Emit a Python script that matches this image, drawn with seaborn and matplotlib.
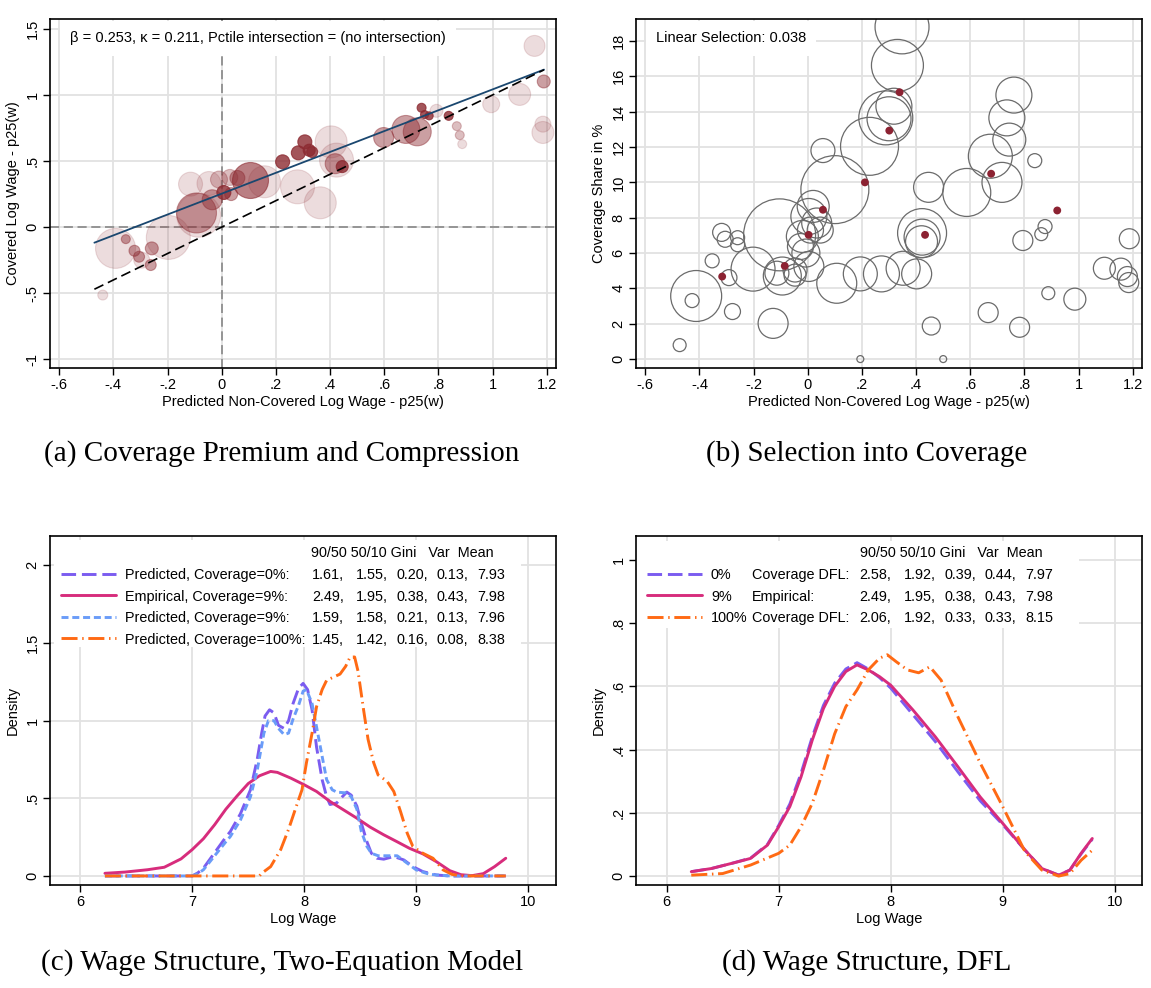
import numpy as np
import pandas as pd
import matplotlib
matplotlib.use("Agg")
import matplotlib.pyplot as plt
import seaborn as sns
from matplotlib.lines import Line2D
from matplotlib.patches import Rectangle

sns.set_theme(style="white")
plt.rcParams.update({
    'font.family': ['Liberation Sans', 'DejaVu Sans'],
    'font.size': 10,
    'axes.edgecolor': 'black',
    'axes.linewidth': 1.2,
    'axes.labelcolor': 'black',
    'text.color': 'black',
    'xtick.color': 'black',
    'ytick.color': 'black',
    'xtick.bottom': True,
    'ytick.left': True,
    'xtick.labelsize': 10.5,
    'ytick.labelsize': 10.5,
    'axes.labelsize': 10.5,
})

# ---------------- panel (a): coverage premium bubbles ----------------
prem_x = [1.155, 1.189, 1.100, 0.995, 1.186, 1.186, 0.868, 0.879, 0.888, 0.838,
          0.793, 0.738, 0.749, 0.766, 0.680, 0.722, 0.598, 0.404, 0.424, 0.419,
          0.445, 0.225, 0.307, 0.283, 0.323, 0.334, 0.280, 0.364, 0.106, 0.158,
          0.058, 0.008, 0.035, -0.010, -0.047, -0.115, -0.093, -0.035, -0.197, -0.392,
          -0.354, -0.322, -0.305, -0.258, -0.262, -0.439, -0.295, 0.030, -0.085]
prem_y = [1.371, 1.102, 1.004, 0.930, 0.779, 0.716, 0.764, 0.696, 0.628, 0.842,
          0.880, 0.903, 0.852, 0.842, 0.739, 0.721, 0.678, 0.645, 0.507, 0.480,
          0.458, 0.494, 0.645, 0.562, 0.582, 0.568, 0.305, 0.184, 0.360, 0.343,
          0.372, 0.262, 0.250, 0.360, 0.330, 0.325, 0.107, 0.207, -0.078, -0.161,
          -0.091, -0.179, -0.224, -0.161, -0.287, -0.514, -0.250, 0.376, 0.090]
prem_w = [110, 42, 121, 72, 64, 121, 20, 20, 20, 20,
          42, 20, 16, 16, 196, 196, 100, 256, 289, 100,
          36, 49, 49, 49, 36, 30, 289, 256, 324, 256,
          56, 49, 42, 72, 144, 144, 400, 100, 484, 400,
          20, 30, 30, 42, 30, 25, 64, 64, 484]
prem_shade = ['light', 'mid', 'light', 'light', 'light', 'light', 'pale', 'pale', 'light', 'dark',
              'light', 'dark', 'dark', 'dark', 'mid', 'mid', 'mid', 'light', 'light', 'mid',
              'dark', 'dark', 'dark', 'dark', 'dark', 'dark', 'light', 'light', 'deep', 'light',
              'mid', 'dark', 'mid', 'pale', 'light', 'light', 'mid', 'mid', 'light', 'light',
              'mid', 'mid', 'mid', 'mid', 'mid', 'light', 'light', 'pale', 'light']
beta = 0.253
kappa = 0.211
fit_x = [-0.47, 1.19]

# ---------------- panel (b): selection into coverage ----------------
sel_x = [0.348, 0.331, 0.318, 0.288, 0.300, 0.228, 0.100, 0.056, -0.104, -0.202,
         -0.412, -0.427, -0.473, -0.353, -0.318, -0.305, -0.259, -0.259, -0.291, -0.278,
         -0.128, -0.114, -0.094, -0.047, -0.047, -0.027, 0.004, -0.007, -0.020, 0.004,
         0.020, 0.033, 0.046, 0.010, 0.107, 0.194, 0.272, 0.352, 0.402, 0.422,
         0.422, 0.420, 0.446, 0.456, 0.500, 0.194, 0.587, 0.674, 0.717, 0.744,
         0.735, 0.761, 0.838, 0.666, 0.782, 0.794, 0.876, 0.862, 0.888, 0.986,
         1.095, 1.156, 1.180, 1.185, 1.187]
sel_y = [18.8, 16.62, 14.31, 13.65, 13.6, 12.04, 9.59, 11.8, 7.03, 5.09,
         3.57, 3.31, 0.79, 5.56, 7.17, 6.78, 6.87, 6.47, 4.61, 2.69,
         2.02, 4.86, 4.70, 5.04, 4.75, 6.37, 5.24, 6.00, 6.94, 8.07,
         8.64, 7.70, 7.30, 7.30, 4.29, 4.82, 4.82, 5.14, 4.82, 7.13,
         6.90, 6.64, 9.72, 1.87, 0.0, 0.0, 9.43, 11.48, 10.0, 12.42,
         13.65, 14.94, 11.23, 2.63, 1.80, 6.71, 7.50, 7.07, 3.73, 3.39,
         5.14, 5.09, 4.67, 4.33, 6.81]
sel_w = [729, 676, 324, 729, 484, 841, 1156, 144, 1296, 484,
         650, 49, 42, 49, 81, 64, 49, 49, 64, 64,
         225, 144, 361, 144, 121, 169, 225, 196, 256, 324,
         256, 225, 169, 169, 400, 289, 324, 289, 225, 600,
         324, 256, 225, 81, 12, 12, 576, 484, 400, 272,
         324, 324, 49, 100, 100, 100, 49, 42, 42, 121,
         121, 121, 100, 100, 100]
bin_x = [-0.316, -0.085, 0.003, 0.056, 0.211, 0.301, 0.339, 0.433, 0.677, 0.921]
bin_y = [4.67, 5.27, 7.03, 8.45, 10.0, 12.93, 15.1, 7.03, 10.49, 8.41]
linear_selection = 0.038

# ---------------- panel (c): two-equation model densities ----------------
c_emp_x = [6.22, 6.4, 6.6, 6.75, 6.9, 7.0, 7.1, 7.2, 7.3, 7.4, 7.5, 7.6, 7.7, 7.76, 7.88, 8.0,
           8.11, 8.23, 8.35, 8.47, 8.59, 8.71, 8.83, 8.94, 9.06, 9.18, 9.3, 9.4, 9.5, 9.6, 9.7, 9.8]
c_emp_y = [0.017, 0.025, 0.04, 0.056, 0.11, 0.17, 0.24, 0.33, 0.43, 0.515, 0.595, 0.645, 0.673, 0.667,
           0.63, 0.587, 0.544, 0.48, 0.426, 0.372, 0.314, 0.265, 0.22, 0.178, 0.142, 0.092, 0.034,
           0.008, 0.002, 0.015, 0.06, 0.114]
c_p0_x = [6.22, 7.0, 7.05, 7.1, 7.2, 7.3, 7.34, 7.43, 7.52, 7.58, 7.62, 7.65, 7.69, 7.73, 7.77, 7.82,
          7.86, 7.9, 7.95, 7.99, 8.03, 8.07, 8.11, 8.16, 8.2, 8.23, 8.29, 8.34, 8.38, 8.42, 8.47,
          8.51, 8.56, 8.6, 8.65, 8.71, 8.8, 8.89, 8.97, 9.06, 9.18, 9.3, 9.8]
c_p0_y = [0, 0, 0.02, 0.05, 0.15, 0.25, 0.286, 0.40, 0.555, 0.75, 0.92, 1.03, 1.07, 1.05, 0.97, 0.95,
          1.0, 1.11, 1.21, 1.24, 1.2, 1.07, 0.83, 0.62, 0.51, 0.46, 0.47, 0.51, 0.54, 0.52, 0.45,
          0.34, 0.22, 0.146, 0.114, 0.108, 0.125, 0.103, 0.06, 0.028, 0.006, 0, 0]
c_p9_x = [6.22, 7.0, 7.05, 7.1, 7.2, 7.3, 7.34, 7.43, 7.52, 7.58, 7.64, 7.68, 7.73, 7.77, 7.82, 7.86,
          7.9, 7.95, 7.99, 8.02, 8.07, 8.11, 8.16, 8.2, 8.25, 8.29, 8.37, 8.42, 8.47, 8.51, 8.56,
          8.6, 8.66, 8.74, 8.83, 8.92, 9.0, 9.12, 9.3, 9.8]
c_p9_y = [0, 0, 0.015, 0.04, 0.13, 0.22, 0.254, 0.36, 0.51, 0.68, 0.92, 1.0, 1.0, 0.95, 0.91, 0.92,
          1.01, 1.10, 1.19, 1.2, 1.11, 0.96, 0.77, 0.62, 0.555, 0.54, 0.535, 0.51, 0.43, 0.286, 0.19,
          0.146, 0.13, 0.13, 0.13, 0.082, 0.039, 0.01, 0, 0]
c_p100_x = [6.22, 7.6, 7.62, 7.7, 7.79, 7.86, 7.93, 7.98, 8.02, 8.07, 8.11, 8.16, 8.2, 8.26, 8.32,
            8.37, 8.41, 8.45, 8.48, 8.53, 8.57, 8.62, 8.66, 8.74, 8.8, 8.86, 8.92, 8.97, 9.06,
            9.15, 9.24, 9.32, 9.4, 9.8]
c_p100_y = [0, 0, 0.017, 0.06, 0.17, 0.30, 0.45, 0.555, 0.73, 0.92, 1.09, 1.2, 1.26, 1.28, 1.30,
            1.35, 1.41, 1.41, 1.32, 1.07, 0.88, 0.73, 0.65, 0.61, 0.544, 0.415, 0.275, 0.19, 0.146,
            0.114, 0.039, 0.01, 0, 0]
c_names = ["Predicted, Coverage=0%:", "Empirical, Coverage=9%:",
           "Predicted, Coverage=9%:", "Predicted, Coverage=100%:"]
c_stats = [[1.61, 1.55, 0.20, 0.13, 7.93],
           [2.49, 1.95, 0.38, 0.43, 7.98],
           [1.59, 1.58, 0.21, 0.13, 7.96],
           [1.45, 1.42, 0.16, 0.08, 8.38]]
stat_header = "90/50 50/10 Gini   Var  Mean"

# ---------------- panel (d): DFL densities ----------------
d_x = [6.22, 6.4, 6.6, 6.75, 6.9, 7.0, 7.1, 7.2, 7.3, 7.4, 7.5, 7.6, 7.7, 7.8, 7.9, 8.0,
       8.2, 8.4, 8.6, 8.8, 9.0, 9.2, 9.35, 9.5, 9.6, 9.7, 9.8]
d_emp_y = [0.014, 0.024, 0.042, 0.056, 0.098, 0.156, 0.22, 0.314, 0.43, 0.53, 0.60, 0.647, 0.668,
           0.652, 0.631, 0.604, 0.525, 0.44, 0.346, 0.25, 0.167, 0.082, 0.024, 0.003, 0.019,
           0.072, 0.119]
d_dfl0_y = [0.014, 0.024, 0.042, 0.057, 0.10, 0.16, 0.228, 0.325, 0.44, 0.54, 0.61, 0.655, 0.675,
            0.655, 0.628, 0.595, 0.51, 0.425, 0.33, 0.238, 0.163, 0.082, 0.024, 0.003, 0.019,
            0.07, 0.117]
d_dfl100_x = [6.22, 6.5, 6.75, 7.0, 7.1, 7.2, 7.3, 7.4, 7.5, 7.6, 7.7, 7.8, 7.9, 7.97, 8.05,
              8.15, 8.25, 8.35, 8.45, 8.6, 8.8, 9.0, 9.2, 9.35, 9.5, 9.6, 9.7, 9.8]
d_dfl100_y = [0.003, 0.008, 0.035, 0.072, 0.098, 0.156, 0.23, 0.335, 0.45, 0.536, 0.589, 0.652,
              0.689, 0.70, 0.678, 0.652, 0.643, 0.662, 0.62, 0.504, 0.357, 0.22, 0.077, 0.019,
              0.0, 0.008, 0.05, 0.082]
d_pcts = ["0%", "9%", "100%"]
d_names = ["Coverage DFL:", "Empirical:", "Coverage DFL:"]
d_stats = [[2.58, 1.92, 0.39, 0.44, 7.97],
           [2.49, 1.95, 0.38, 0.43, 7.98],
           [2.06, 1.92, 0.33, 0.33, 8.15]]

# tick values / labels (Stata style)
wx_ticks = [-0.6, -0.4, -0.2, 0, 0.2, 0.4, 0.6, 0.8, 1, 1.2]
wx_labels = ["-.6", "-.4", "-.2", "0", ".2", ".4", ".6", ".8", "1", "1.2"]
prem_ticks = [-1, -0.5, 0, 0.5, 1, 1.5]
prem_labels = ["-1", "-.5", "0", ".5", "1", "1.5"]
share_ticks = [0, 2, 4, 6, 8, 10, 12, 14, 16, 18]
lw_ticks = [6, 7, 8, 9, 10]
dc_ticks = [0, 0.5, 1, 1.5, 2]
dc_labels = ["0", ".5", "1", "1.5", "2"]
dd_ticks = [0, 0.2, 0.4, 0.6, 0.8, 1]
dd_labels = ["0", ".2", ".4", ".6", ".8", "1"]

# styles
BUBBLE = '#8c2a31'
SHADE_ALPHA = {'light': 0.16, 'pale': 0.3, 'mid': 0.45, 'deep': 0.6, 'dark': 0.8}
C_PURPLE = '#7b5cf0'
C_MAGENTA = '#d72c7c'
C_LBLUE = '#6a9cf8'
C_ORANGE = '#ff6a14'
LS_LONG = (0, (5, 2))
LS_SHORT = (0, (2.4, 1.3))
LS_DASHDOT = (0, (5.5, 1.6, 0.5, 1.6))
SIZE_SCALE = 2.07
GRID = '#e2e2e2'
LEG_FS = 10.4

fig = plt.figure(figsize=(11.51, 9.88), dpi=100)
ax_a = fig.add_axes([0.0434, 0.6278, 0.4396, 0.3534])
ax_b = fig.add_axes([0.5526, 0.6278, 0.4396, 0.3534])
ax_c = fig.add_axes([0.0434, 0.1043, 0.4396, 0.3533])
ax_d = fig.add_axes([0.5526, 0.1043, 0.4396, 0.3533])


def stata_axes(ax, xlim, ylim, xt, xl, yt, yl, xlabel, ylabel):
    ax.set_xlim(*xlim)
    ax.set_ylim(*ylim)
    ax.set_xticks(xt)
    ax.set_xticklabels(xl)
    ax.set_yticks(yt)
    ax.set_yticklabels(yl, rotation=90, va='center')
    ax.grid(True, color=GRID, lw=1.3)
    ax.set_axisbelow(True)
    ax.tick_params(direction='out', length=5, width=1, pad=2.5)
    ax.set_xlabel(xlabel, labelpad=2)
    ax.set_ylabel(ylabel, labelpad=4)
    for sp in ax.spines.values():
        sp.set_color('black')
        sp.set_linewidth(1.2)


# ---- (a)
prem = pd.DataFrame({'x': prem_x, 'y': prem_y, 'w': prem_w, 'shade': prem_shade})
for shade in ['light', 'pale', 'mid', 'deep', 'dark']:
    sub = prem[prem['shade'] == shade]
    sns.scatterplot(x=sub['x'], y=sub['y'], s=sub['w'] * SIZE_SCALE, color=BUBBLE,
                    alpha=SHADE_ALPHA[shade], edgecolor=BUBBLE, linewidth=0.8,
                    ax=ax_a, legend=False, zorder=2)
ax_a.axvline(0, color='#7f7f7f', lw=1.1, ls=(0, (6, 3)), zorder=1.8)
ax_a.axhline(0, color='#7f7f7f', lw=1.1, ls=(0, (6, 3)), zorder=1.8)
fx = np.array(fit_x)
sns.lineplot(x=fx, y=beta + (1 - kappa) * fx, color='#1a476f', lw=1.3, ax=ax_a, zorder=3)
sns.lineplot(x=fx, y=fx, color='black', lw=1.2, linestyle=(0, (6, 3)), ax=ax_a, zorder=3)
stata_axes(ax_a, (-0.634, 1.234), (-1.064, 1.578), wx_ticks, wx_labels, prem_ticks, prem_labels,
           "Predicted Non-Covered Log Wage - p25(w)", "Covered Log Wage - p25(w)")
ax_a.text(0.040, 0.943,
          f"\u03b2 = {beta:.3f}, \u03ba = {kappa:.3f}, Pctile intersection = (no intersection)",
          transform=ax_a.transAxes, fontsize=10.5, va='center', ha='left', zorder=4,
          bbox=dict(facecolor='white', edgecolor='none', boxstyle='square,pad=0.7'))

# ---- (b)
sel = pd.DataFrame({'x': sel_x, 'y': sel_y, 'w': sel_w})
sns.scatterplot(data=sel, x='x', y='y', s=sel['w'] * SIZE_SCALE, facecolor='none',
                edgecolor='#6b6b6b', linewidth=0.9, ax=ax_b, legend=False, zorder=2)
sns.scatterplot(x=bin_x, y=bin_y, s=32, color='#8c2232', edgecolor='none', ax=ax_b,
                legend=False, zorder=3)
stata_axes(ax_b, (-0.634, 1.234), (-0.49, 19.27), wx_ticks, wx_labels, share_ticks,
           [str(t) for t in share_ticks],
           "Predicted Non-Covered Log Wage - p25(w)", "Coverage Share in %")
ax_b.text(0.039, 0.943, f"Linear Selection: {linear_selection:.3f}", transform=ax_b.transAxes,
          fontsize=10.5, va='center', ha='left', zorder=4,
          bbox=dict(facecolor='white', edgecolor='none', boxstyle='square,pad=0.7'))

# ---- (c)
c_series = [(c_p0_x, c_p0_y, C_PURPLE, LS_LONG),
            (c_emp_x, c_emp_y, C_MAGENTA, '-'),
            (c_p9_x, c_p9_y, C_LBLUE, LS_SHORT),
            (c_p100_x, c_p100_y, C_ORANGE, LS_DASHDOT)]
for xs, ys, col, ls in c_series:
    sns.lineplot(x=xs, y=ys, color=col, lw=2.1, linestyle=ls, ax=ax_c, sort=False,
                 estimator=None, zorder=3)
stata_axes(ax_c, (5.729, 10.248), (-0.058, 2.19), lw_ticks, [str(t) for t in lw_ticks],
           dc_ticks, dc_labels, "Log Wage", "Density")

# ---- (d)
d_series = [(d_x, d_dfl0_y, C_PURPLE, LS_LONG),
            (d_x, d_emp_y, C_MAGENTA, '-'),
            (d_dfl100_x, d_dfl100_y, C_ORANGE, LS_DASHDOT)]
for xs, ys, col, ls in d_series:
    sns.lineplot(x=xs, y=ys, color=col, lw=2.1, linestyle=ls, ax=ax_d, sort=False,
                 estimator=None, zorder=3)
stata_axes(ax_d, (5.727, 10.244), (-0.028, 1.076), lw_ticks, [str(t) for t in lw_ticks],
           dd_ticks, dd_labels, "Log Wage", "Density")


def stat_legend(ax, series, labels, anchor, box, col_x, header_x, stats, extra=None):
    ax.add_patch(Rectangle(box[:2], box[2], box[3], transform=ax.transAxes,
                           facecolor='white', edgecolor='none', zorder=1.5))
    handles = [Line2D([], [], color=s[2], lw=2.1, linestyle=s[3]) for s in series]
    leg = ax.legend(handles, labels, loc='upper left', bbox_to_anchor=anchor, frameon=False,
                    fontsize=LEG_FS, handlelength=3.8, handletextpad=0.6, labelspacing=0.52,
                    borderpad=0, borderaxespad=0)
    fig.canvas.draw()
    rend = fig.canvas.get_renderer()
    inv = ax.transAxes.inverted()
    rows = []
    for t in leg.get_texts():
        bb = t.get_window_extent(rend)
        rows.append(inv.transform((0, (bb.y0 + bb.y1) / 2))[1])
    step = rows[0] - rows[1]
    ax.text(header_x, rows[0] + step, stat_header, transform=ax.transAxes, fontsize=LEG_FS,
            va='center', ha='left')
    for i, yv in enumerate(rows):
        for j, v in enumerate(stats[i]):
            s = f"{v:.2f}," if j < 4 else f"{v:.2f}"
            ax.text(col_x[j], yv, s, transform=ax.transAxes, fontsize=LEG_FS, va='center',
                    ha='left')
        if extra is not None:
            ax.text(extra[0], yv, extra[1][i], transform=ax.transAxes, fontsize=LEG_FS,
                    va='center', ha='left')


stat_legend(ax_c, c_series, c_names, (0.022, 0.908), (0.008, 0.683, 0.922, 0.305),
            [0.518, 0.605, 0.685, 0.764, 0.844], 0.516, c_stats)
stat_legend(ax_d, d_series, d_pcts, (0.0225, 0.908), (0.0, 0.735, 0.875, 0.249),
            [0.441, 0.530, 0.609, 0.688, 0.770], 0.4435, d_stats, extra=(0.229, d_names))

# captions
cap = dict(fontsize=21, family=['Liberation Serif', 'DejaVu Serif'], ha='center', va='center')
fig.text(0.2447, 0.5405, "(a) Coverage Premium and Compression", **cap)
fig.text(0.7533, 0.5405, "(b) Selection into Coverage", **cap)
fig.text(0.2447, 0.0253, "(c) Wage Structure, Two-Equation Model", **cap)
fig.text(0.7533, 0.0253, "(d) Wage Structure, DFL", **cap)

fig.savefig("out.png", dpi=100, facecolor='white')
